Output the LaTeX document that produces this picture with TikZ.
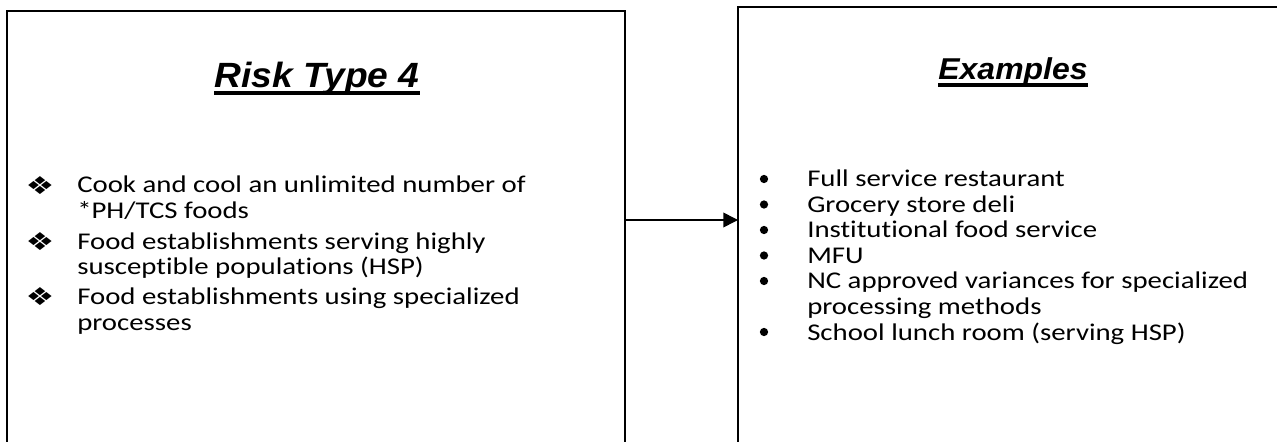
\documentclass[tikz,border=0pt]{standalone}
\usepackage{fontspec}
\setmainfont{Carlito}
\newfontfamily\bodyfont[FakeStretch=1.2,Ligatures=NoCommon]{Carlito}
\newfontfamily\titlefont[FakeStretch=1.06]{Liberation Sans}
\newfontfamily\symfont[FakeStretch=1.3]{DejaVu Sans}
\usetikzlibrary{arrows.meta,calc}
\begin{document}
\begin{tikzpicture}[x=0.75pt,y=-0.75pt,
  box/.style={inner sep=0pt, outer sep=0pt, anchor=north west, minimum height=375pt},
  edge/.style={line width=1.5pt},
  title/.style={font=\titlefont\bfseries\itshape\fontsize{26.3}{30}\selectfont, inner sep=0pt, anchor=base},
  ul/.style={line width=2.3pt},
  body/.style={font=\bodyfont\fontsize{18}{19.5}\selectfont, inner sep=0pt, anchor=base west, align=left},
  sym/.style={font=\symfont\fontsize{18.5}{18.5}\selectfont, inner sep=0pt, anchor=center},
  dot/.style={circle, fill=black, inner sep=0pt, minimum size=6.2pt},
  link/.style={line width=1.2pt, -{Triangle[length=11pt,width=11pt]}}
]
\useasboundingbox (0,0) rectangle (1286,442);
\fill[white] (0,0) rectangle (1286,442);
\clip (0,0) rectangle (1286,442);

% boxes
\node[box, draw, edge, minimum width=463.5pt] (lbox) at (7,11) {};
\node[box, minimum width=404.25pt] (rbox) at (738,7) {};
\draw[edge] (rbox.south west) -- (rbox.north west) -- (rbox.north east);

% connector
\coordinate (ay) at (0,220);
\draw[link] (lbox.east |- ay) -- (rbox.west |- ay);

% titles
\node[title] (t1) at (317,88) {Risk Type 4};
\draw[ul] ($(t1.base west)+(0,5)$) -- ($(t1.base east)+(0,5)$);
\node[title, font=\titlefont\bfseries\itshape\fontsize{22.6}{26}\selectfont] (t2) at (1013,80) {Examples};
\draw[ul] ($(t2.base west)+(0,5)$) -- ($(t2.base east)+(0,5)$);

% left list (node base = baseline of last line)
\node[sym] (d1) at (40,185.5) {❖};
\node[body] (b1) at (77,219) {Cook and cool an unlimited number of\\{}*PH/TCS foods};
\node[sym] (d2) at (40,241.5) {❖};
\node[body] (b2) at (77,275) {Food establishments serving highly\\susceptible populations (HSP)};
\node[sym] (d3) at (40,296.5) {❖};
\node[body] (b3) at (77,330) {Food establishments using specialized\\processes};

% right list
\node[dot] (p1) at (764,179) {};
\node[body] (r1) at (807,187) {Full service restaurant};
\node[dot] (p2) at (764,204.5) {};
\node[body] (r2) at (807,212.5) {Grocery store deli};
\node[dot] (p3) at (764,230) {};
\node[body] (r3) at (807,238) {Institutional food service};
\node[dot] (p4) at (764,255.5) {};
\node[body] (r4) at (807,263.5) {MFU};
\node[dot] (p5) at (764,281) {};
\node[body] (r5) at (807,314.5) {NC approved variances for specialized\\processing methods};
\node[dot] (p6) at (764,332) {};
\node[body] (r6) at (807,340) {School lunch room (serving HSP)};
\end{tikzpicture}
\end{document}
